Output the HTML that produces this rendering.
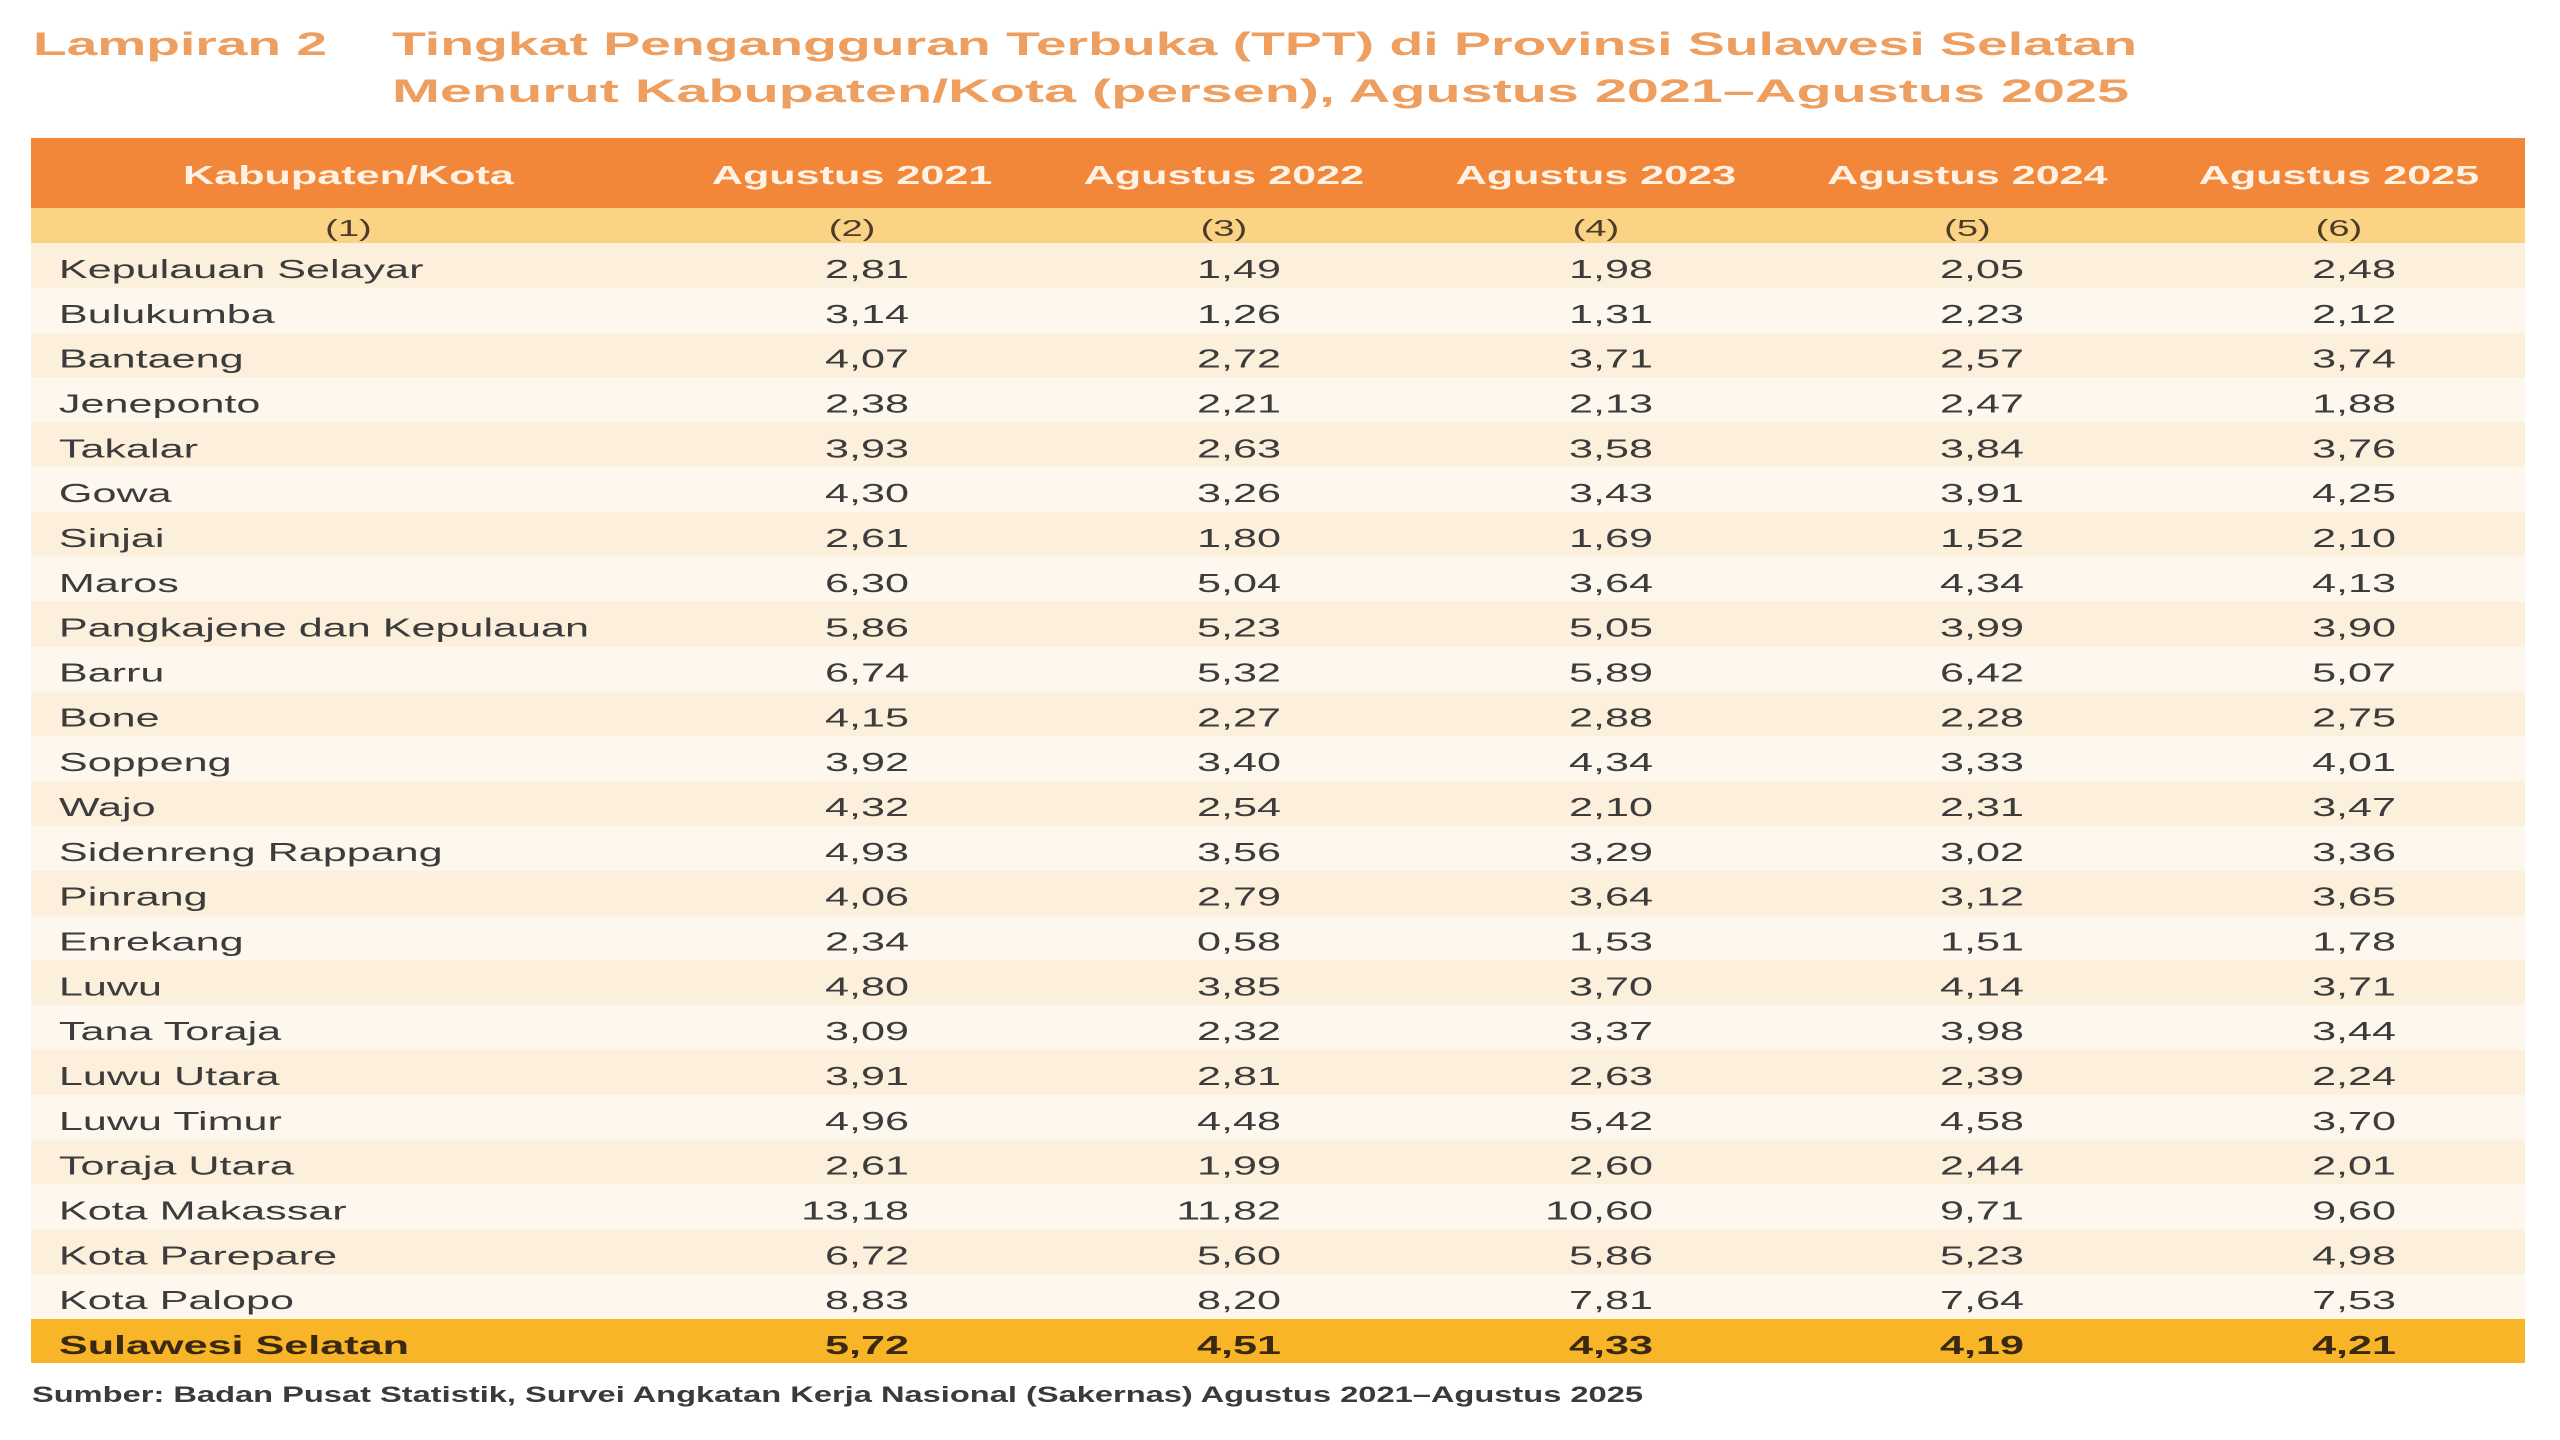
<!DOCTYPE html>
<html><head><meta charset="utf-8">
<style>
html,body{margin:0;padding:0;background:#fff;}
svg{display:block;}
text{font-family:"Liberation Sans",sans-serif;}
.t{font-size:32px;font-weight:bold;fill:#EE9E5E;}
.h{font-size:26px;font-weight:bold;fill:#FFF2E4;text-anchor:middle;}
.s{font-size:23px;fill:#4a3b2a;text-anchor:middle;}
.l{font-size:26px;fill:#3c3c3c;}
.n{font-size:26px;fill:#3c3c3c;text-anchor:end;}
.tl{font-size:26px;font-weight:bold;fill:#3a2810;}
.tn{font-size:26px;font-weight:bold;fill:#3a2810;text-anchor:end;}
.src{font-size:22px;font-weight:bold;fill:#3a3a3a;}
</style></head>
<body>
<svg width="2560" height="1440" viewBox="0 0 2560 1440" xmlns="http://www.w3.org/2000/svg">
<rect width="2560" height="1440" fill="#fff"/>
<text class="t" x="33" y="55" textLength="294" lengthAdjust="spacingAndGlyphs">Lampiran 2</text>
<text class="t" x="392" y="55" textLength="1745" lengthAdjust="spacingAndGlyphs">Tingkat Pengangguran Terbuka (TPT) di Provinsi Sulawesi Selatan</text>
<text class="t" x="392" y="102" textLength="1737" lengthAdjust="spacingAndGlyphs">Menurut Kabupaten/Kota (persen), Agustus 2021–Agustus 2025</text>

<rect x="31" y="138" width="2494" height="70" fill="#F2873A"/>
<rect x="31" y="208" width="2494" height="35" fill="#FBD384"/>
<g>
<rect x="31" y="243.0" width="2494" height="44.9" fill="#FCEFDB"/>
<rect x="31" y="287.8" width="2494" height="44.9" fill="#FDF7EE"/>
<rect x="31" y="332.7" width="2494" height="44.9" fill="#FCEFDB"/>
<rect x="31" y="377.5" width="2494" height="44.9" fill="#FDF7EE"/>
<rect x="31" y="422.3" width="2494" height="44.9" fill="#FCEFDB"/>
<rect x="31" y="467.2" width="2494" height="44.9" fill="#FDF7EE"/>
<rect x="31" y="512.0" width="2494" height="44.9" fill="#FCEFDB"/>
<rect x="31" y="556.8" width="2494" height="44.9" fill="#FDF7EE"/>
<rect x="31" y="601.6" width="2494" height="44.9" fill="#FCEFDB"/>
<rect x="31" y="646.5" width="2494" height="44.9" fill="#FDF7EE"/>
<rect x="31" y="691.3" width="2494" height="44.9" fill="#FCEFDB"/>
<rect x="31" y="736.1" width="2494" height="44.9" fill="#FDF7EE"/>
<rect x="31" y="781.0" width="2494" height="44.9" fill="#FCEFDB"/>
<rect x="31" y="825.8" width="2494" height="44.9" fill="#FDF7EE"/>
<rect x="31" y="870.6" width="2494" height="44.9" fill="#FCEFDB"/>
<rect x="31" y="915.5" width="2494" height="44.9" fill="#FDF7EE"/>
<rect x="31" y="960.3" width="2494" height="44.9" fill="#FCEFDB"/>
<rect x="31" y="1005.1" width="2494" height="44.9" fill="#FDF7EE"/>
<rect x="31" y="1049.9" width="2494" height="44.9" fill="#FCEFDB"/>
<rect x="31" y="1094.8" width="2494" height="44.9" fill="#FDF7EE"/>
<rect x="31" y="1139.6" width="2494" height="44.9" fill="#FCEFDB"/>
<rect x="31" y="1184.4" width="2494" height="44.9" fill="#FDF7EE"/>
<rect x="31" y="1229.3" width="2494" height="44.9" fill="#FCEFDB"/>
<rect x="31" y="1274.1" width="2494" height="44.9" fill="#FDF7EE"/>
</g>
<rect x="31" y="1319" width="2494" height="44" fill="#F8B527"/>

<g transform="scale(1.66,1)">
<text class="h" x="209.9" y="184">Kabupaten/Kota</text>
<text class="h" x="513.3" y="184">Agustus 2021</text>
<text class="h" x="737.3" y="184">Agustus 2022</text>
<text class="h" x="961.4" y="184">Agustus 2023</text>
<text class="h" x="1185.2" y="184">Agustus 2024</text>
<text class="h" x="1409.0" y="184">Agustus 2025</text>

<text class="s" x="209.9" y="236">(1)</text>
<text class="s" x="513.3" y="236">(2)</text>
<text class="s" x="737.3" y="236">(3)</text>
<text class="s" x="961.4" y="236">(4)</text>
<text class="s" x="1185.2" y="236">(5)</text>
<text class="s" x="1409.0" y="236">(6)</text>

<text class="l" x="35.5" y="278">Kepulauan Selayar</text>
<text class="n" x="547.6" y="278">2,81</text><text class="n" x="771.7" y="278">1,49</text><text class="n" x="995.8" y="278">1,98</text><text class="n" x="1219.3" y="278">2,05</text><text class="n" x="1443.4" y="278">2,48</text>

<text class="l" x="35.5" y="322.8">Bulukumba</text>
<text class="n" x="547.6" y="322.8">3,14</text><text class="n" x="771.7" y="322.8">1,26</text><text class="n" x="995.8" y="322.8">1,31</text><text class="n" x="1219.3" y="322.8">2,23</text><text class="n" x="1443.4" y="322.8">2,12</text>

<text class="l" x="35.5" y="367.7">Bantaeng</text>
<text class="n" x="547.6" y="367.7">4,07</text><text class="n" x="771.7" y="367.7">2,72</text><text class="n" x="995.8" y="367.7">3,71</text><text class="n" x="1219.3" y="367.7">2,57</text><text class="n" x="1443.4" y="367.7">3,74</text>

<text class="l" x="35.5" y="412.5">Jeneponto</text>
<text class="n" x="547.6" y="412.5">2,38</text><text class="n" x="771.7" y="412.5">2,21</text><text class="n" x="995.8" y="412.5">2,13</text><text class="n" x="1219.3" y="412.5">2,47</text><text class="n" x="1443.4" y="412.5">1,88</text>

<text class="l" x="35.5" y="457.3">Takalar</text>
<text class="n" x="547.6" y="457.3">3,93</text><text class="n" x="771.7" y="457.3">2,63</text><text class="n" x="995.8" y="457.3">3,58</text><text class="n" x="1219.3" y="457.3">3,84</text><text class="n" x="1443.4" y="457.3">3,76</text>

<text class="l" x="35.5" y="502.2">Gowa</text>
<text class="n" x="547.6" y="502.2">4,30</text><text class="n" x="771.7" y="502.2">3,26</text><text class="n" x="995.8" y="502.2">3,43</text><text class="n" x="1219.3" y="502.2">3,91</text><text class="n" x="1443.4" y="502.2">4,25</text>

<text class="l" x="35.5" y="547.0">Sinjai</text>
<text class="n" x="547.6" y="547.0">2,61</text><text class="n" x="771.7" y="547.0">1,80</text><text class="n" x="995.8" y="547.0">1,69</text><text class="n" x="1219.3" y="547.0">1,52</text><text class="n" x="1443.4" y="547.0">2,10</text>

<text class="l" x="35.5" y="591.8">Maros</text>
<text class="n" x="547.6" y="591.8">6,30</text><text class="n" x="771.7" y="591.8">5,04</text><text class="n" x="995.8" y="591.8">3,64</text><text class="n" x="1219.3" y="591.8">4,34</text><text class="n" x="1443.4" y="591.8">4,13</text>

<text class="l" x="35.5" y="636.6">Pangkajene dan Kepulauan</text>
<text class="n" x="547.6" y="636.6">5,86</text><text class="n" x="771.7" y="636.6">5,23</text><text class="n" x="995.8" y="636.6">5,05</text><text class="n" x="1219.3" y="636.6">3,99</text><text class="n" x="1443.4" y="636.6">3,90</text>

<text class="l" x="35.5" y="681.5">Barru</text>
<text class="n" x="547.6" y="681.5">6,74</text><text class="n" x="771.7" y="681.5">5,32</text><text class="n" x="995.8" y="681.5">5,89</text><text class="n" x="1219.3" y="681.5">6,42</text><text class="n" x="1443.4" y="681.5">5,07</text>

<text class="l" x="35.5" y="726.3">Bone</text>
<text class="n" x="547.6" y="726.3">4,15</text><text class="n" x="771.7" y="726.3">2,27</text><text class="n" x="995.8" y="726.3">2,88</text><text class="n" x="1219.3" y="726.3">2,28</text><text class="n" x="1443.4" y="726.3">2,75</text>

<text class="l" x="35.5" y="771.1">Soppeng</text>
<text class="n" x="547.6" y="771.1">3,92</text><text class="n" x="771.7" y="771.1">3,40</text><text class="n" x="995.8" y="771.1">4,34</text><text class="n" x="1219.3" y="771.1">3,33</text><text class="n" x="1443.4" y="771.1">4,01</text>

<text class="l" x="35.5" y="816.0">Wajo</text>
<text class="n" x="547.6" y="816.0">4,32</text><text class="n" x="771.7" y="816.0">2,54</text><text class="n" x="995.8" y="816.0">2,10</text><text class="n" x="1219.3" y="816.0">2,31</text><text class="n" x="1443.4" y="816.0">3,47</text>

<text class="l" x="35.5" y="860.8">Sidenreng Rappang</text>
<text class="n" x="547.6" y="860.8">4,93</text><text class="n" x="771.7" y="860.8">3,56</text><text class="n" x="995.8" y="860.8">3,29</text><text class="n" x="1219.3" y="860.8">3,02</text><text class="n" x="1443.4" y="860.8">3,36</text>

<text class="l" x="35.5" y="905.6">Pinrang</text>
<text class="n" x="547.6" y="905.6">4,06</text><text class="n" x="771.7" y="905.6">2,79</text><text class="n" x="995.8" y="905.6">3,64</text><text class="n" x="1219.3" y="905.6">3,12</text><text class="n" x="1443.4" y="905.6">3,65</text>

<text class="l" x="35.5" y="950.5">Enrekang</text>
<text class="n" x="547.6" y="950.5">2,34</text><text class="n" x="771.7" y="950.5">0,58</text><text class="n" x="995.8" y="950.5">1,53</text><text class="n" x="1219.3" y="950.5">1,51</text><text class="n" x="1443.4" y="950.5">1,78</text>

<text class="l" x="35.5" y="995.3">Luwu</text>
<text class="n" x="547.6" y="995.3">4,80</text><text class="n" x="771.7" y="995.3">3,85</text><text class="n" x="995.8" y="995.3">3,70</text><text class="n" x="1219.3" y="995.3">4,14</text><text class="n" x="1443.4" y="995.3">3,71</text>

<text class="l" x="35.5" y="1040.1">Tana Toraja</text>
<text class="n" x="547.6" y="1040.1">3,09</text><text class="n" x="771.7" y="1040.1">2,32</text><text class="n" x="995.8" y="1040.1">3,37</text><text class="n" x="1219.3" y="1040.1">3,98</text><text class="n" x="1443.4" y="1040.1">3,44</text>

<text class="l" x="35.5" y="1084.9">Luwu Utara</text>
<text class="n" x="547.6" y="1084.9">3,91</text><text class="n" x="771.7" y="1084.9">2,81</text><text class="n" x="995.8" y="1084.9">2,63</text><text class="n" x="1219.3" y="1084.9">2,39</text><text class="n" x="1443.4" y="1084.9">2,24</text>

<text class="l" x="35.5" y="1129.8">Luwu Timur</text>
<text class="n" x="547.6" y="1129.8">4,96</text><text class="n" x="771.7" y="1129.8">4,48</text><text class="n" x="995.8" y="1129.8">5,42</text><text class="n" x="1219.3" y="1129.8">4,58</text><text class="n" x="1443.4" y="1129.8">3,70</text>

<text class="l" x="35.5" y="1174.6">Toraja Utara</text>
<text class="n" x="547.6" y="1174.6">2,61</text><text class="n" x="771.7" y="1174.6">1,99</text><text class="n" x="995.8" y="1174.6">2,60</text><text class="n" x="1219.3" y="1174.6">2,44</text><text class="n" x="1443.4" y="1174.6">2,01</text>

<text class="l" x="35.5" y="1219.4">Kota Makassar</text>
<text class="n" x="547.6" y="1219.4">13,18</text><text class="n" x="771.7" y="1219.4">11,82</text><text class="n" x="995.8" y="1219.4">10,60</text><text class="n" x="1219.3" y="1219.4">9,71</text><text class="n" x="1443.4" y="1219.4">9,60</text>

<text class="l" x="35.5" y="1264.3">Kota Parepare</text>
<text class="n" x="547.6" y="1264.3">6,72</text><text class="n" x="771.7" y="1264.3">5,60</text><text class="n" x="995.8" y="1264.3">5,86</text><text class="n" x="1219.3" y="1264.3">5,23</text><text class="n" x="1443.4" y="1264.3">4,98</text>

<text class="l" x="35.5" y="1309.1">Kota Palopo</text>
<text class="n" x="547.6" y="1309.1">8,83</text><text class="n" x="771.7" y="1309.1">8,20</text><text class="n" x="995.8" y="1309.1">7,81</text><text class="n" x="1219.3" y="1309.1">7,64</text><text class="n" x="1443.4" y="1309.1">7,53</text>

<text class="tl" x="35.5" y="1354">Sulawesi Selatan</text>
<text class="tn" x="547.6" y="1354">5,72</text><text class="tn" x="771.7" y="1354">4,51</text><text class="tn" x="995.8" y="1354">4,33</text><text class="tn" x="1219.3" y="1354">4,19</text><text class="tn" x="1443.4" y="1354">4,21</text>
</g>

<text class="src" x="32" y="1402" textLength="1611" lengthAdjust="spacingAndGlyphs">Sumber: Badan Pusat Statistik, Survei Angkatan Kerja Nasional (Sakernas) Agustus 2021–Agustus 2025</text>
</svg>
</body></html>
